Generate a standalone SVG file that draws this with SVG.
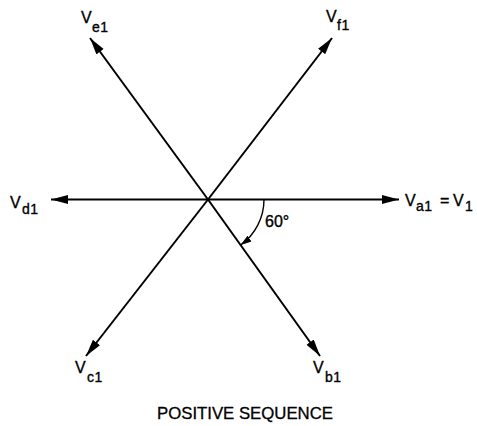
<svg xmlns="http://www.w3.org/2000/svg" width="477" height="426" viewBox="0 0 477 426">
<style>
  .vec { stroke: #000; stroke-width: 2; fill: none; marker-end: url(#arrow); }
  .arc { stroke: #000; stroke-width: 1.4; fill: none; marker-end: url(#arrowSmall); }
  .lbl { font-family: "Liberation Sans", Arial, sans-serif; font-size: 16px; fill: #000; stroke: #000; stroke-width: 0.35; }
  .sub { font-family: "Liberation Sans", Arial, sans-serif; font-size: 14px; fill: #000; stroke: #000; stroke-width: 0.35; letter-spacing: 0.5px; }
  .title { font-family: "Liberation Sans", Arial, sans-serif; font-size: 16.5px; fill: #000; stroke: #000; stroke-width: 0.3; }
</style>
<defs>
  <marker id="arrow" markerUnits="userSpaceOnUse" markerWidth="19" markerHeight="10" refX="17" refY="4.5" orient="auto">
    <path d="M0,0 L17,4.5 L0,9 z" fill="#000"/>
  </marker>
  <marker id="arrowSmall" markerUnits="userSpaceOnUse" markerWidth="12" markerHeight="8" refX="11" refY="3.5" orient="auto">
    <path d="M0,0 L11,3.5 L0,7 z" fill="#000"/>
  </marker>
</defs>
<rect width="477" height="426" fill="#fff"/>
<g id="connectors">
  <line class="vec" x1="208" y1="199.5" x2="399" y2="199.5"/>
  <line class="vec" x1="208" y1="199.5" x2="51" y2="199.5"/>
  <line class="vec" x1="208" y1="199.5" x2="90" y2="38"/>
  <line class="vec" x1="208" y1="199.5" x2="332" y2="38"/>
  <line class="vec" x1="208" y1="199.5" x2="86" y2="356"/>
  <line class="vec" x1="208" y1="199.5" x2="320" y2="356"/>
  <path class="arc" d="M264,199.5 A56,56 0 0 1 240.6,245"/>
</g>
<g id="node-va1">
  <text class="lbl" x="405" y="206">V</text><text class="sub" x="416" y="211">a1</text>
  <text class="lbl" x="440" y="206">=</text>
  <text class="lbl" x="453" y="206">V</text><text class="sub" x="465" y="211">1</text>
</g>
<g id="node-vb1">
  <text class="lbl" x="313" y="373">V</text><text class="sub" x="325" y="382">b1</text>
</g>
<g id="node-vc1">
  <text class="lbl" x="75" y="373">V</text><text class="sub" x="87" y="382">c1</text>
</g>
<g id="node-vd1">
  <text class="lbl" x="10" y="208">V</text><text class="sub" x="22" y="214">d1</text>
</g>
<g id="node-ve1">
  <text class="lbl" x="81" y="23">V</text><text class="sub" x="92" y="32">e1</text>
</g>
<g id="node-vf1">
  <text class="lbl" x="326" y="22">V</text><text class="sub" x="337" y="30">f1</text>
</g>
<g id="angle-label">
  <text class="lbl" x="265" y="227">60°</text>
</g>
<g id="caption">
  <text class="title" x="157" y="419" textLength="176" lengthAdjust="spacingAndGlyphs">POSITIVE SEQUENCE</text>
</g>
</svg>
